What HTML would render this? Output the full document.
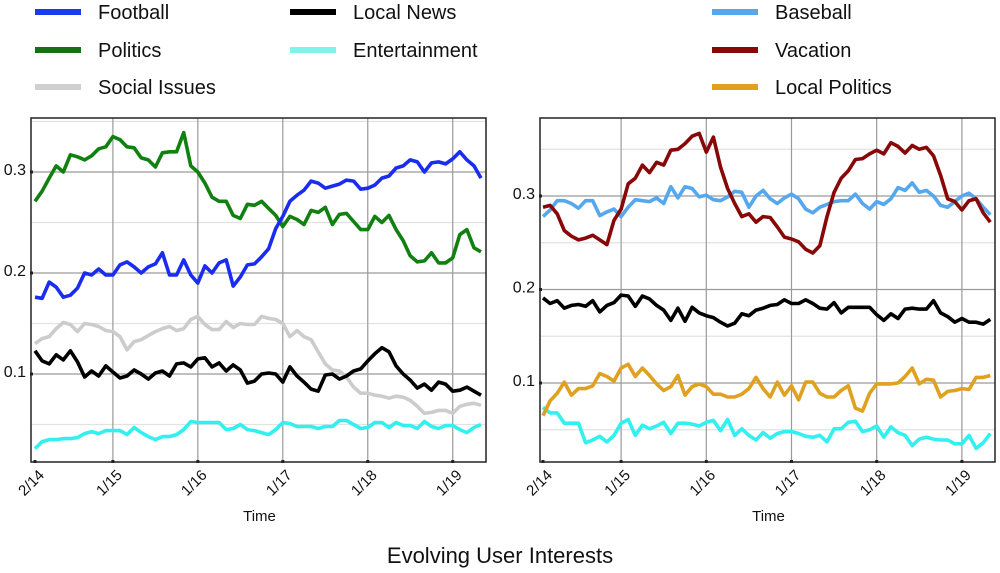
<!DOCTYPE html>
<html><head><meta charset="utf-8"><style>
html,body{margin:0;padding:0;background:#fff;width:1000px;height:573px;overflow:hidden;font-family:"Liberation Sans",Arial,sans-serif}
</style></head><body>
<svg id="chart" width="1000" height="573" viewBox="0 0 1000 573" xmlns="http://www.w3.org/2000/svg" font-family="Liberation Sans, Arial, sans-serif">
<g id="legend"></g>
<g id="left"></g>
<g id="right"></g>
<text x="500" y="563" text-anchor="middle" font-size="22" fill="#111">Evolving User Interests</text>
</svg>
<script>
const xTickLabels = ["2/14","1/15","1/16","1/17","1/18","1/19"];
const xTickMonths = [0,11,23,35,47,59];
const yTickLabels = ["0.1","0.2","0.3"];
const yTickValues = [0.1,0.2,0.3];
const football = [.176,.175,.191,.186,.176,.178,.185,.20,.198,.204,.198,.198,.208,.211,.206,.20,.206,.209,.22,.198,.198,.213,.198,.19,.207,.20,.21,.213,.187,.196,.208,.209,.216,.224,.244,.256,.271,.277,.282,.291,.289,.284,.286,.288,.292,.291,.283,.284,.287,.294,.296,.304,.306,.312,.310,.30,.309,.31,.308,.313,.32,.312,.306,.294];
const politics = [.271,.281,.294,.306,.30,.317,.315,.312,.316,.323,.325,.335,.332,.325,.324,.314,.312,.305,.319,.320,.320,.339,.306,.30,.289,.275,.271,.271,.257,.254,.268,.267,.271,.264,.257,.246,.256,.253,.248,.262,.26,.265,.248,.258,.259,.251,.243,.243,.256,.25,.257,.243,.232,.217,.211,.212,.22,.21,.21,.215,.238,.243,.225,.221];
const socialIssues = [.13,.135,.137,.145,.151,.149,.142,.15,.149,.147,.143,.142,.137,.124,.132,.134,.138,.142,.145,.147,.143,.145,.154,.157,.149,.144,.144,.152,.146,.15,.149,.149,.157,.155,.154,.15,.137,.143,.137,.134,.122,.11,.104,.103,.097,.087,.081,.081,.079,.078,.076,.078,.077,.074,.068,.061,.062,.064,.064,.061,.068,.07,.071,.069];
const localNewsL = [.123,.113,.11,.119,.114,.123,.112,.097,.103,.098,.108,.102,.096,.098,.104,.1,.095,.101,.103,.098,.11,.111,.107,.115,.116,.107,.111,.103,.109,.104,.091,.093,.1,.101,.1,.092,.107,.098,.092,.085,.083,.099,.1,.095,.098,.103,.105,.113,.12,.126,.122,.108,.1,.094,.086,.09,.084,.092,.09,.083,.084,.087,.083,.079];
const entertainmentL = [.026,.033,.035,.035,.036,.036,.037,.041,.043,.041,.044,.044,.044,.04,.047,.042,.038,.035,.038,.038,.04,.045,.053,.052,.052,.052,.052,.045,.046,.05,.045,.044,.042,.04,.045,.052,.051,.048,.048,.048,.046,.048,.048,.054,.054,.05,.046,.047,.052,.052,.047,.052,.049,.049,.046,.053,.048,.046,.049,.049,.045,.042,.047,.05];
const baseball = [.278,.285,.295,.295,.292,.287,.295,.295,.279,.283,.286,.278,.288,.296,.295,.294,.298,.292,.31,.298,.31,.308,.299,.301,.296,.295,.299,.305,.304,.288,.30,.306,.297,.292,.298,.302,.297,.286,.282,.288,.291,.294,.295,.295,.302,.292,.286,.294,.291,.297,.309,.306,.314,.304,.306,.30,.29,.288,.294,.30,.303,.297,.288,.28];
const vacation = [.288,.29,.281,.263,.257,.253,.255,.258,.253,.248,.274,.286,.313,.319,.333,.325,.336,.333,.349,.35,.356,.364,.367,.347,.363,.331,.308,.292,.278,.281,.272,.278,.277,.267,.256,.254,.251,.243,.239,.247,.278,.304,.319,.327,.339,.34,.345,.349,.345,.357,.353,.346,.354,.35,.352,.343,.322,.297,.294,.285,.295,.297,.282,.272];
const localNewsR = [.191,.185,.188,.18,.183,.184,.182,.188,.176,.183,.186,.194,.193,.182,.193,.19,.183,.178,.167,.18,.166,.181,.175,.172,.17,.165,.161,.164,.174,.172,.178,.18,.183,.184,.189,.185,.185,.189,.185,.18,.179,.186,.175,.181,.181,.181,.181,.173,.167,.174,.169,.179,.18,.179,.179,.188,.175,.171,.165,.169,.165,.165,.163,.168];
const localPolitics = [.065,.081,.089,.101,.087,.094,.094,.097,.11,.107,.102,.116,.12,.107,.116,.108,.099,.092,.096,.108,.087,.096,.099,.096,.088,.088,.085,.085,.088,.094,.106,.094,.085,.101,.087,.097,.082,.101,.101,.089,.085,.085,.092,.097,.073,.07,.089,.099,.099,.099,.1,.107,.116,.099,.104,.103,.085,.091,.092,.094,.093,.106,.106,.108];
const entertainmentR = [.074,.068,.068,.057,.057,.057,.036,.039,.043,.037,.044,.057,.061,.044,.055,.051,.054,.058,.046,.057,.057,.056,.054,.058,.06,.049,.061,.044,.051,.044,.039,.047,.041,.046,.048,.048,.046,.043,.042,.044,.037,.051,.051,.058,.059,.048,.05,.054,.042,.053,.047,.044,.033,.04,.042,.04,.039,.039,.035,.035,.044,.03,.036,.046];

const NS="http://www.w3.org/2000/svg";
function mk(parent,tag,attrs){const e=document.createElementNS(NS,tag);for(const k in attrs)e.setAttribute(k,attrs[k]);parent.appendChild(e);return e;}

function drawChart(g, cfg, series){
  const xS = m => cfg.x0 + m*cfg.mw;
  const yS = v => cfg.y01 - (v-0.1)*cfg.py;
  [0.05,0.15,0.25,0.35].forEach(v=>{
    const y=yS(v); if(y<cfg.top||y>cfg.bottom) return;
    const l=mk(g,'line',{x1:cfg.left,x2:cfg.right,y1:y,y2:y,stroke:'#e2e2e2','stroke-width':1.2});
    
    
  });
  yTickValues.forEach((v,i)=>{
    const y=yS(v);
    const l=mk(g,'line',{x1:cfg.left,x2:cfg.right,y1:y,y2:y,stroke:'#9a9a9a','stroke-width':1.2});
    
    
    const t=mk(g,'text',{x:cfg.left-5,y:y+3,'text-anchor':'end','font-size':16,fill:'#111'});
    t.textContent=yTickLabels[i];
    
    
    mk(g,'rect',{x:cfg.left-1,y:y-1.5,width:3,height:3,fill:'#222'});
  });
  xTickMonths.forEach((m,i)=>{
    const x=xS(m);
    if(i>0){const l=mk(g,'line',{x1:x,x2:x,y1:cfg.top,y2:cfg.bottom,stroke:'#9a9a9a','stroke-width':1.2});
      
      }
    mk(g,'rect',{x:x-1.5,y:cfg.bottom-2,width:3,height:3,fill:'#222'});
    const t=mk(g,'text',{x:x+10,y:cfg.bottom+14,'text-anchor':'end','font-size':15,fill:'#111',transform:`rotate(-45 ${x+10} ${cfg.bottom+14})`});
    t.textContent=xTickLabels[i];
    
    
  });
  series.forEach(s=>{
    const pts=s.data.map((v,i)=>xS(i).toFixed(1)+','+yS(v).toFixed(1)).join(' ');
    const p=mk(g,'polyline',{points:pts,fill:'none',stroke:s.color,'stroke-width':3.6,'stroke-linejoin':'round'});
    
    
  });
  const b=mk(g,'rect',{x:cfg.left,y:cfg.top,width:cfg.right-cfg.left,height:cfg.bottom-cfg.top,fill:'none',stroke:'#222','stroke-width':1.5});
  
  
  const t=mk(g,'text',{x:(cfg.left+cfg.right)/2+1,y:521,'text-anchor':'middle','font-size':15,fill:'#111'});
  t.textContent='Time';
  
  
}

drawChart(document.getElementById('left'),
  {left:31,right:486,top:118,bottom:462,x0:35,mw:7.08,y01:374,py:1010},
  [{data:socialIssues,color:'#cccccc',name:'line-social-issues'},
   {data:entertainmentL,color:'#33f0f0',name:'line-entertainment'},
   {data:localNewsL,color:'#000000',name:'line-local-news'},
   {data:politics,color:'#118011',name:'line-politics'},
   {data:football,color:'#1a2cf0',name:'line-football'}]);
drawChart(document.getElementById('right'),
  {left:540,right:995,top:118,bottom:462,x0:543,mw:7.1,y01:383,py:935},
  [{data:entertainmentR,color:'#33f0f0',name:'line-entertainment-right'},
   {data:localPolitics,color:'#e0a020',name:'line-local-politics'},
   {data:localNewsR,color:'#000000',name:'line-local-news-right'},
   {data:baseball,color:'#55a8ee',name:'line-baseball'},
   {data:vacation,color:'#880808',name:'line-vacation'}]);

const legendNames=["Football","Politics","Social Issues","Local News","Entertainment","Baseball","Vacation","Local Politics"];
const legendColors=["#1a3cf0","#167016","#d0d0d0","#000000","#7ff5ea","#55a8ee","#880808","#e0a020"];
const lx=[35,35,35,290,290,712,712,712], ly=[12,50,87,12,50,12,50,87];
const lg=document.getElementById('legend');
legendNames.forEach((n,i)=>{
  const e=mk(lg,'g',{});
  
  
  mk(e,'line',{x1:lx[i],x2:lx[i]+46,y1:ly[i],y2:ly[i],stroke:legendColors[i],'stroke-width':6});
  const t=mk(e,'text',{x:lx[i]+63,y:ly[i]+7,'font-size':20,fill:'#111'});
  t.textContent=n;
});
</script>
</body></html>
